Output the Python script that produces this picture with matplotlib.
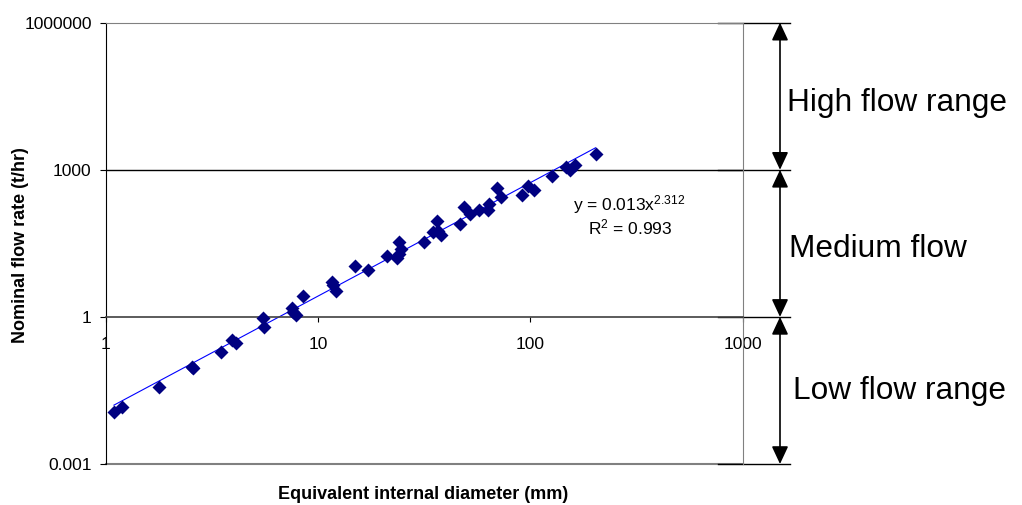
import numpy as np
import matplotlib.pyplot as plt
from matplotlib import transforms

plt.rcParams['font.family'] = ['Liberation Sans', 'DejaVu Sans']
plt.rcParams['mathtext.fontset'] = 'custom'
plt.rcParams['mathtext.rm'] = 'Liberation Sans'
plt.rcParams['mathtext.it'] = 'Liberation Sans:italic'

# diametre interieur equivalent (mm) / debit nominal (t/hr)
diam = [1.09, 1.19, 1.78, 2.54, 2.57, 3.48, 3.94, 4.09, 5.50, 5.58,
        7.51, 7.64, 7.87, 8.52, 11.6, 11.8, 12.2, 14.9, 17.1, 21.2,
        24.0, 23.5, 24.7, 24.1, 31.6, 34.6, 36.4, 38.0, 36.8, 46.7,
        48.5, 52.0, 57.3, 62.9, 64.2, 69.5, 72.8, 91.0, 97.4, 104,
        126, 147, 154, 163, 203]
debit = [0.0113, 0.0145, 0.0370, 0.0959, 0.0902, 0.191, 0.335, 0.287, 0.954, 0.608,
         1.50, 1.26, 1.10, 2.68, 5.16, 4.42, 3.38, 10.9, 9.15, 17.6,
         33.2, 16.2, 23.9, 19.6, 33.2, 53.8, 91.0, 47.7, 56.9, 78.0,
         174, 128, 154, 154, 197, 418, 278, 311, 474, 393,
         744, 1135, 986, 1270, 2058]

# courbe de tendance puissance affichee
coef_a = 0.013
coef_b = 2.312
r2 = 0.993

xticks = [1, 10, 100, 1000]
xlabels = ['1', '10', '100', '1000']
yticks = [0.001, 1, 1000, 1000000]
ylabels = ['0.001', '1', '1000', '1000000']

# zones de debit (bas -> haut)
zones = ['Low flow range', 'Medium flow', 'High flow range']
bornes = [0.001, 1, 1000, 1000000]

W, H = 1022, 505
fig = plt.figure(figsize=(W / 100, H / 100), dpi=100)
ax = fig.add_axes([106 / W, 1 - 464 / H, (742.5 - 106) / W, (464 - 22.7) / H])
ax.set_xscale('log')
ax.set_yscale('log')
ax.set_xlim(1, 1000)
ax.set_ylim(0.001, 1000000)

ax.plot(diam, debit, 'D', color='#000080', ms=6.8, mec='none', zorder=3)
xt = np.logspace(np.log10(min(diam)), np.log10(max(diam)), 100)
ax.plot(xt, coef_a * xt ** coef_b, color='#0000FF', lw=0.8, zorder=2)

# quadrillage horizontal
ax.axhline(1000, color='black', lw=1, zorder=1)
ax.axhline(0.001, color='#808080', lw=1.5, clip_on=False, zorder=1)

for s in ['top', 'right']:
    ax.spines[s].set_color('#808080')
ax.spines['left'].set_color('black')
ax.spines['bottom'].set_position(('data', 1))
ax.spines['bottom'].set_color('#404040')
ax.spines['bottom'].set_linewidth(1.2)

ax.xaxis.set_major_locator(plt.FixedLocator(xticks))
ax.xaxis.set_major_formatter(plt.FixedFormatter(xlabels))
ax.xaxis.set_minor_locator(plt.NullLocator())
ax.yaxis.set_major_locator(plt.FixedLocator(yticks))
ax.yaxis.set_major_formatter(plt.FixedFormatter(ylabels))
ax.yaxis.set_minor_locator(plt.NullLocator())
ax.tick_params(axis='x', direction='out', length=3.5, pad=11, labelsize=12.5)
ax.tick_params(axis='y', direction='out', length=4.3, pad=6, labelsize=12.5)

fig.text(21 / W, 1 - 245 / H, 'Nominal flow rate (t/hr)', rotation=90,
         ha='center', va='center', fontsize=13, fontweight='bold')
fig.text(423 / W, 1 - 494.7 / H, 'Equivalent internal diameter (mm)',
         ha='center', va='center', fontsize=13, fontweight='bold')

fig.text(573 / W, 1 - 210 / H, f'y = {coef_a}x$^{{{coef_b}}}$',
         ha='left', va='baseline', fontsize=12.5)
fig.text(588 / W, 1 - 234.5 / H, f'R$^2$ = {r2}',
         ha='left', va='baseline', fontsize=12.5)

# zones a droite du graphe
trans = transforms.blended_transform_factory(fig.transFigure, ax.transData)
for b in bornes:
    ax.plot([718 / W, 790 / W], [b, b], transform=trans, color='black',
            lw=1, clip_on=False)
zone_x = [793, 789, 787]
zone_dy = [-1, -6, -7]
for i in range(3):
    ax.annotate('', xy=(780 / W, bornes[i]), xytext=(780 / W, bornes[i + 1]),
                xycoords=trans, textcoords=trans, annotation_clip=False,
                arrowprops=dict(arrowstyle='<|-|>,head_length=0.9,head_width=0.42',
                                mutation_scale=12, color='black', lw=1.2,
                                shrinkA=0, shrinkB=0))
    ym = np.sqrt(bornes[i] * bornes[i + 1])
    tr = transforms.offset_copy(trans, fig=fig, y=zone_dy[i], units='dots')
    ax.text(zone_x[i] / W, ym, zones[i], transform=tr, ha='left',
            va='center', fontsize=22.8, clip_on=False)

fig.savefig('out.png', dpi=100)
